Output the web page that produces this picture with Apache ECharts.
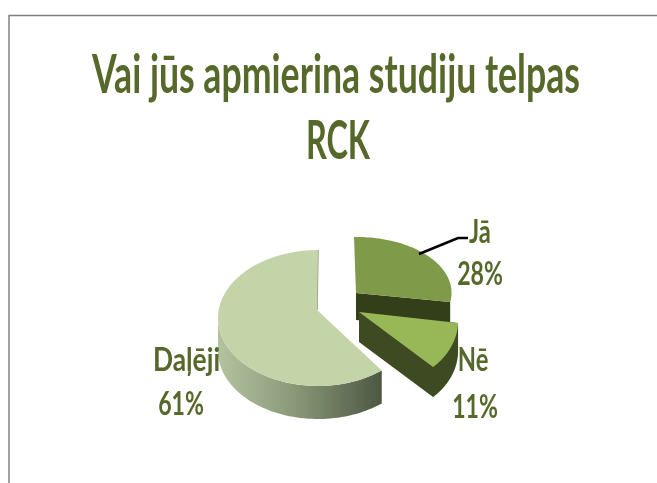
<!DOCTYPE html>
<html><head><meta charset="utf-8">
<style>html,body{margin:0;padding:0;background:#fff}#c{width:657px;height:483px}</style>
<script src="https://cdn.jsdelivr.net/npm/echarts@6/dist/echarts.min.js"></script>
</head><body><div id="c"></div>
<script>
const titleLines = ['Vai jūs apmierina studiju telpas', 'RCK'];
const categories = ['Jā', 'Nē', 'Daļēji'];
const shares = [28, 11, 61];

const FONT = 'Lato, "Open Sans", sans-serif';
const INK = '#56692b';
const looks = [
  {cx:356,cy:293,ax:356,ay:293,rx:95.5,ry:56,skx:2,sky:-1.5,depth:27,top:'#7f9a48',side:'#333f18',z:2,
   name:[480,232],pct:[480,274],nameScale:0.72,leader:[[419,254],[458,238],[468,238]]},
  {cx:359,cy:312,ax:359,ay:312,rx:98,ry:74,skx:15,sky:-3,depth:30,top:'#98b857',side:'#3e4b22',z:3,
   name:[473,360],pct:[475,407],nameScale:0.72},
  {cx:318,cy:318,ax:317,ay:310,rx:100,ry:68,skx:0,sky:0,depth:33,top:'#c3d4a9',side:null,z:1,
   name:[186.5,360],pct:[181,404],nameScale:0.8}
];

const total = shares.reduce((a, b) => a + b, 0);
function startShare(i) { let s = 0; for (let k = 0; k < i; k++) s += shares[k]; return s; }

function renderSlice(params, api) {
  const i = params.dataIndex, g = looks[i];
  const a0 = startShare(i) / total * 2 * Math.PI;
  const a1 = a0 + api.value(0) / total * 2 * Math.PI;
  const at = t => [g.cx + g.rx * Math.sin(t) - g.skx * Math.cos(t),
                   g.cy - g.ry * Math.cos(t) + g.sky * Math.sin(t)];
  const arc = (from, to) => {
    const n = 60, out = [];
    for (let k = 0; k <= n; k++) out.push(at(from + (to - from) * k / n));
    return out;
  };
  const down = p => [p[0], p[1] + g.depth];
  const apex = [g.ax, g.ay];
  const rim = arc(a0, a1);
  const children = [];

  if (i === 2) {
    const front = arc(a0, Math.PI * 1.5);
    children.push({type:'polygon', z2:g.z,
      shape:{points: front.concat(front.slice().reverse().map(down))},
      style:{fill:new echarts.graphic.LinearGradient(0,0,1,0,[
        {offset:0,color:'#b4c2a0'},{offset:0.45,color:'#8b9b79'},{offset:1,color:'#4d5743'}])}});
    children.push({type:'polyline', z2:g.z,
      shape:{points:[apex, rim[rim.length-1]]},
      style:{stroke:'#8f9d7e',lineWidth:1.5,fill:null}});
  } else if (i === 0) {
    const end = rim[rim.length-1];
    children.push({type:'polygon', z2:g.z,
      shape:{points:[apex, end, down(end), down(apex)]},
      style:{fill:g.side}});
  } else {
    children.push({type:'polygon', z2:g.z,
      shape:{points:[apex].concat(rim.slice(0,1), rim.map(down), [down(apex)])},
      style:{fill:g.side}});
  }
  children.push({type:'polygon', z2:g.z+0.1,
    shape:{points:[apex].concat(rim)},
    style:{fill:g.top}});

  if (g.leader) children.push({type:'polyline', z2:5,
    shape:{points:g.leader}, style:{stroke:'#000',lineWidth:2.5,fill:null}});

  const label = (txt, p, sc) => ({type:'text', z2:6, x:p[0], y:p[1], scaleX:sc,
    style:{text:txt, font:'bold 33px '+FONT, fill:INK, align:'center', verticalAlign:'middle'}});
  children.push(label(categories[i], g.name, g.nameScale));
  children.push(label(Math.round(api.value(0) / total * 100) + '%', g.pct, 0.7));
  return {type:'group', children};
}

const chart = echarts.init(document.getElementById('c'), null, {renderer:'canvas'});
chart.setOption({
  animation:false,
  backgroundColor:'#ffffff',
  graphic:[
    {type:'polyline', silent:true,
     shape:{points:[[9,483],[9,15.5],[657,15.5]]}, style:{stroke:'#808080',lineWidth:1.5,fill:null}},
    {type:'text', silent:true, x:336, y:76, scaleX:0.66,
     style:{text:titleLines[0], font:'bold 54px '+FONT, fill:INK, align:'center', verticalAlign:'middle'}},
    {type:'text', silent:true, x:338, y:142, scaleX:0.6,
     style:{text:titleLines[1], font:'bold 54px '+FONT, fill:INK, align:'center', verticalAlign:'middle'}}
  ],
  series:[{type:'custom', coordinateSystem:'none', renderItem:renderSlice,
    data:shares.map((v,i)=>({name:categories[i], value:[v]}))}]
});
</script></body></html>
